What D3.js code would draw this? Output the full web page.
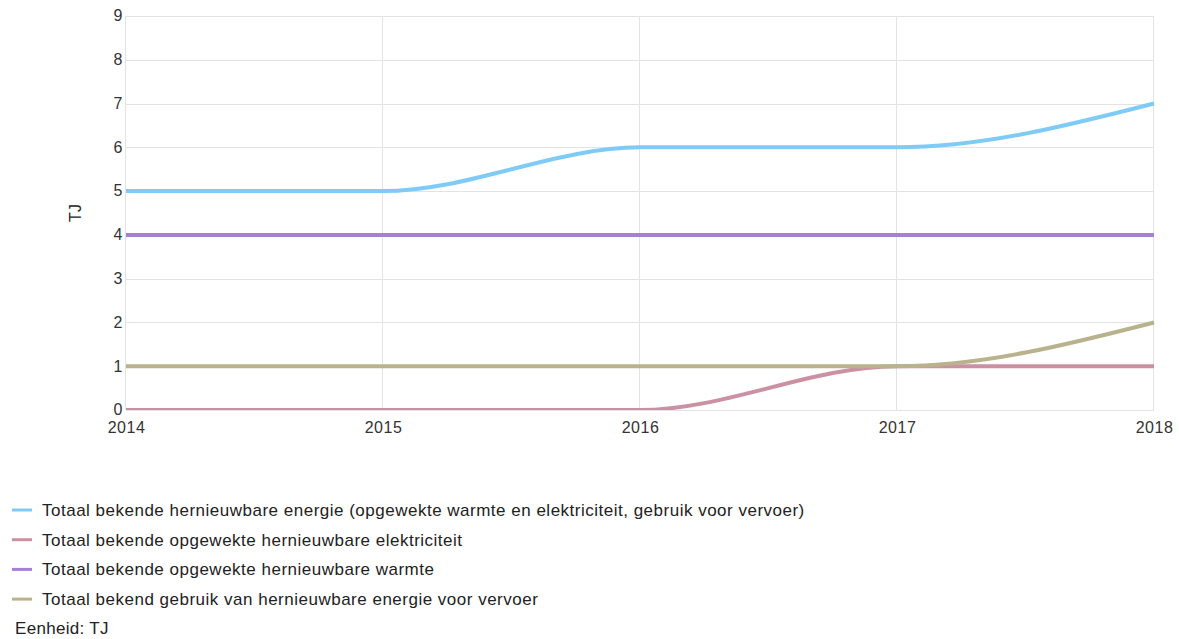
<!DOCTYPE html>
<html>
<head>
<meta charset="utf-8">
<script src="https://cdn.jsdelivr.net/npm/d3@7"></script>
<style>
  html, body { margin: 0; padding: 0; background: #fff; }
  svg { display: block; font-family: "Liberation Sans", Arial, sans-serif; }
</style>
</head>
<body>
<svg id="chart" width="1179" height="639"></svg>
<script>
// Renewable energy totals per year, in TJ
const years = [2014, 2015, 2016, 2017, 2018];
const totaalEnergie = [5, 5, 6, 6, 7];
const elektriciteit = [0, 0, 0, 1, 1];
const warmte = [4, 4, 4, 4, 4];
const vervoer = [1, 1, 1, 1, 2];
const yTicks = [0, 1, 2, 3, 4, 5, 6, 7, 8, 9];
const seriesNames = [
  "Totaal bekende hernieuwbare energie (opgewekte warmte en elektriciteit, gebruik voor vervoer)",
  "Totaal bekende opgewekte hernieuwbare elektriciteit",
  "Totaal bekende opgewekte hernieuwbare warmte",
  "Totaal bekend gebruik van hernieuwbare energie voor vervoer"
];
const seriesColors = ["#7fcbf8", "#cc90a3", "#a580d8", "#b8b38c"];
const seriesValues = [totaalEnergie, elektriciteit, warmte, vervoer];
// drawing order: warmte, elektriciteit, vervoer, totaal
const drawOrder = [2, 1, 3, 0];

const svg = d3.select("#chart");
const plotLeft = 126, plotRight = 1154, plotTop = 16, plotBottom = 410;

const x = d3.scaleLinear().domain([2014, 2018]).range([plotLeft, plotRight]);
const y = d3.scaleLinear().domain([0, 9]).range([plotBottom, plotTop]);

// gridlines
const grid = svg.append("g");
grid.selectAll("line.h").data(yTicks).join("line")
  .attr("x1", plotLeft).attr("x2", plotRight)
  .attr("y1", d => Math.round(y(d)) + 0.5).attr("y2", d => Math.round(y(d)) + 0.5)
  .attr("stroke", "#e3e3e3").attr("stroke-width", 1);
grid.selectAll("line.v").data(years).join("line")
  .attr("x1", d => Math.round(x(d)) - 0.5).attr("x2", d => Math.round(x(d)) - 0.5)
  .attr("y1", plotTop).attr("y2", plotBottom)
  .attr("stroke", "#e3e3e3").attr("stroke-width", 1);

const tickFont = text => text
  .attr("font-size", 16).attr("fill", "#333")
  .attr("letter-spacing", "0.5px")
  .attr("font-family", "Liberation Sans, Arial, sans-serif");

// y axis labels
const yAxis = svg.append("g").attr("transform", `translate(${plotLeft - 3},0)`)
  .call(d3.axisLeft(y).tickValues(yTicks).tickSize(0).tickPadding(0).tickFormat(d3.format("d")));
yAxis.select(".domain").remove();
yAxis.selectAll("text").call(tickFont).attr("dy", "0.3em");

// x axis labels
const xAxis = svg.append("g").attr("transform", `translate(0,${plotBottom + 12})`)
  .call(d3.axisBottom(x).tickValues(years).tickSize(0).tickPadding(0).tickFormat(d3.format("d")));
xAxis.select(".domain").remove();
xAxis.selectAll("text").call(tickFont);

// unit label
svg.append("text")
  .attr("transform", `translate(81,${(plotTop + plotBottom) / 2}) rotate(-90)`)
  .attr("text-anchor", "middle")
  .attr("font-size", 16).attr("fill", "#222")
  .text("TJ");

// lines, clipped to the plot area
svg.append("clipPath").attr("id", "plot-clip")
  .append("rect").attr("x", plotLeft).attr("y", plotTop - 3)
  .attr("width", plotRight - plotLeft + 3).attr("height", plotBottom - plotTop + 3);

const line = d3.line()
  .x((d, i) => x(years[i]))
  .y(d => y(d))
  .curve(d3.curveMonotoneX);

const lines = svg.append("g").attr("clip-path", "url(#plot-clip)");
drawOrder.forEach(k => {
  lines.append("path")
    .attr("d", line(seriesValues[k]))
    .attr("fill", "none")
    .attr("stroke", seriesColors[k])
    .attr("stroke-width", 4);
});

// legend
const legend = svg.append("g");
seriesNames.forEach((name, i) => {
  const ly = 510 + i * 29.7;
  legend.append("line")
    .attr("x1", 12).attr("x2", 32).attr("y1", ly).attr("y2", ly)
    .attr("stroke", seriesColors[i]).attr("stroke-width", 3);
  legend.append("text")
    .attr("x", 42).attr("y", ly + 6)
    .attr("font-size", 17).attr("fill", "#222")
    .attr("letter-spacing", "0.5px")
    .text(name);
});
svg.append("text")
  .attr("x", 15).attr("y", 634)
  .attr("font-size", 17).attr("fill", "#222")
  .attr("letter-spacing", "0.3px")
  .text("Eenheid: TJ");
</script>
</body>
</html>
